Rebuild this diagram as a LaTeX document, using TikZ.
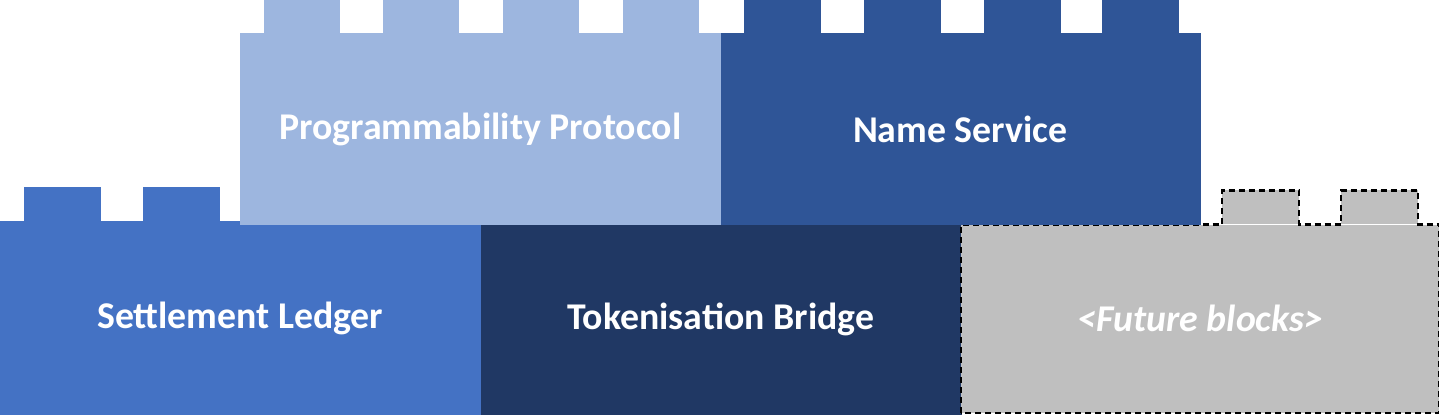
\documentclass[tikz,border=0pt]{standalone}
\usepackage{fontspec}
\setmainfont{Carlito}
\usetikzlibrary{positioning, calc}
\definecolor{ledger}{HTML}{4472C4}
\definecolor{bridge}{HTML}{203864}
\definecolor{future}{HTML}{BFBFBF}
\definecolor{prog}{HTML}{9DB6DF}
\definecolor{names}{HTML}{2F5597}

\begin{document}
\begin{tikzpicture}[x=0.2mm, y=0.2mm,
      brick/.style={inner sep=0pt, text=white, align=center,
        font=\fontsize{21.5}{25}\selectfont\bfseries, line width=0.3pt,
        minimum width=96mm, minimum height=38mm},
      outline/.style={draw=black, line width=1.4pt, dash pattern=on 1.2mm off 0.8mm}]
    \useasboundingbox (0,0) rectangle (1439,415);
    % bottom row
    \node[brick, fill=ledger, draw=ledger, anchor=south west, minimum height=38.6mm] (ledger) at (0,0) {Settlement Ledger};
    \foreach \dx in {24,143}
      \fill[ledger] ($(ledger.north west)+(\dx,0)$) rectangle ++(77,34);
    \node[brick, fill=bridge, draw=bridge, anchor=south west] (bridge) at (ledger.south east) {Tokenisation Bridge};
    \node[brick, fill=future, anchor=south west, minimum width=95.6mm, minimum height=37.6mm]
      (future) at ($(bridge.south east)+(0,2)$) {\textit{<Future blocks>}};
    \foreach \dx in {261,380}
      \fill[future] ($(future.north west)+(\dx,0)$) rectangle ++(77,34);
    \draw[outline] (future.south west) -- (future.north west)
      -- ++(261,0) -- ++(0,34) -- ++(77,0) -- ++(0,-34)
      -- ++(42,0) -- ++(0,34) -- ++(77,0) -- ++(0,-34)
      -- (future.north east) -- (future.south east) -- cycle;
    % top row
    \node[brick, fill=prog, draw=prog, anchor=south west, minimum height=38.2mm] (prog) at (240,190) {Programmability Protocol};
    \foreach \dx in {24,143,263,383}
      \fill[prog] ($(prog.north west)+(\dx,0)$) rectangle ++(76,34);
    \node[brick, fill=names, draw=names, anchor=south west, minimum width=95.8mm, minimum height=38.2mm]
      (names) at (prog.south east) {Name Service};
    \foreach \dx in {23,143,263,381}
      \fill[names] ($(names.north west)+(\dx,0)$) rectangle ++(77,34);
  \end{tikzpicture}
\end{document}
